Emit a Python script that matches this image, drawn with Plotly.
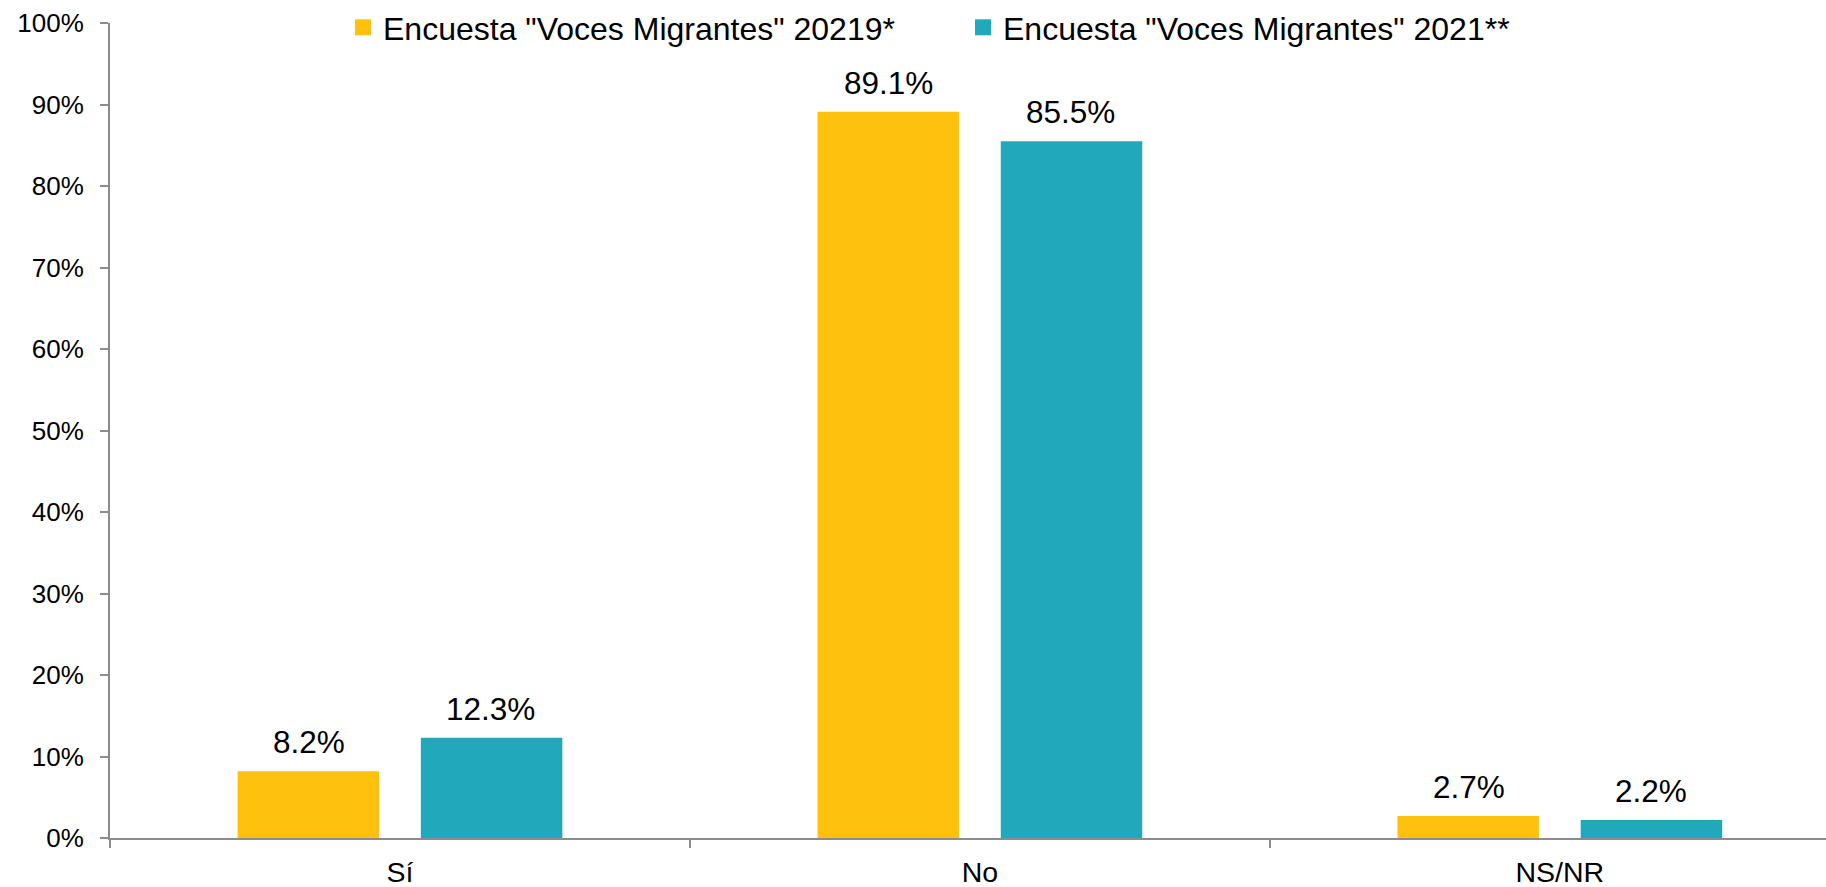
import plotly.graph_objects as go

categories = ["Sí", "No", "NS/NR"]
series_names = ['Encuesta "Voces Migrantes" 20219*', 'Encuesta "Voces Migrantes" 2021**']
values_2019 = [8.2, 89.1, 2.7]
values_2021 = [12.3, 85.5, 2.2]
y_tick_vals = [0, 10, 20, 30, 40, 50, 60, 70, 80, 90, 100]
y_tick_text = [f"{v}%" for v in y_tick_vals]

colors = ["#FEC20E", "#21A8BB"]
FONT = "Liberation Sans, Arial, sans-serif"
bar_width = 0.244
offsets = [-0.280, 0.036]
label_xshift = [-91, 91]

fig = go.Figure()
for name, vals, col, off in zip(series_names, [values_2019, values_2021], colors, offsets):
    fig.add_trace(go.Bar(
        x=categories, y=vals, name=name, marker=dict(color=col, line=dict(width=0)),
        width=bar_width, offset=off, showlegend=False, hoverinfo="skip",
    ))
    # legend entry with larger square symbol
    fig.add_trace(go.Scatter(
        x=[None], y=[None], mode="markers", name=name,
        marker=dict(symbol="square", size=16, color=col), showlegend=True,
    ))

annotations = []
for vals, xs in zip([values_2019, values_2021], label_xshift):
    for c, v in zip(categories, vals):
        annotations.append(dict(
            x=c, y=v, xref="x", yref="y", text=f"{v:.1f}%", showarrow=False,
            xshift=xs, yanchor="bottom", yshift=9,
            font=dict(family=FONT, size=31.5, color="#000000"),
        ))

fig.update_layout(
    width=1826, height=887,
    margin=dict(l=110, r=0, t=23, b=49, autoexpand=False),
    paper_bgcolor="white", plot_bgcolor="white",
    barmode="overlay",
    font=dict(family=FONT, color="#000000"),
    annotations=annotations,
    legend=dict(
        orientation="h", xref="container", yref="container",
        x=343 / 1826, y=1.0, xanchor="left", yanchor="top",
        font=dict(family=FONT, size=32, color="#000000"),
        entrywidth=575, bgcolor="rgba(0,0,0,0)",
        itemclick=False, itemdoubleclick=False,
    ),
    xaxis=dict(
        type="category", categoryorder="array", categoryarray=categories,
        range=[-0.5, 2.459], showgrid=False, zeroline=False,
        showline=True, linecolor="#8C8C8C", linewidth=2,
        ticks="outside", tickson="boundaries", ticklen=8, tickwidth=1.5, tickcolor="#8C8C8C",
        tickfont=dict(family=FONT, size=28.5, color="#000000"),
        ticklabelstandoff=8, automargin=False, fixedrange=True,
    ),
    yaxis=dict(
        range=[0, 100], tickvals=y_tick_vals, ticktext=y_tick_text,
        showgrid=False, zeroline=False,
        showline=True, linecolor="#8C8C8C", linewidth=2,
        ticks="outside", ticklen=8, tickwidth=1.5, tickcolor="#8C8C8C",
        tickfont=dict(family=FONT, size=26, color="#000000"),
        ticklabelstandoff=11, automargin=False, fixedrange=True,
    ),
)

fig.write_html(
    "out.html",
    config={"displayModeBar": False},
    post_script="document.body.style.margin='0px';document.body.style.overflow='hidden';",
)
